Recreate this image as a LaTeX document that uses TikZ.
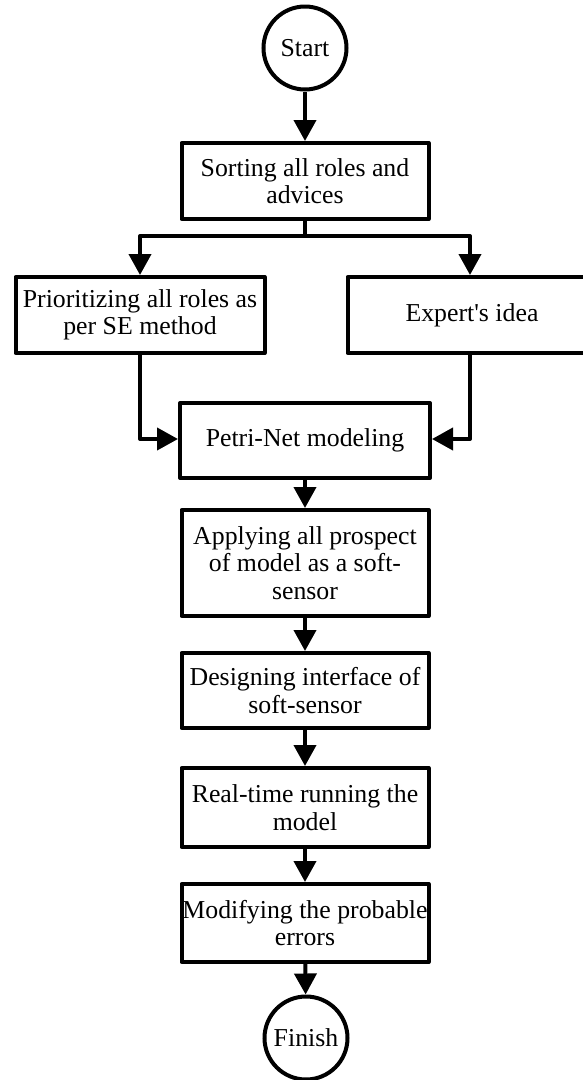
\documentclass[tikz,border=0pt]{standalone}
\usepackage{fontspec}
\setmainfont{Liberation Serif}[Ligatures=TeXOff]
\usetikzlibrary{arrows.meta}
\begin{document}
\begin{tikzpicture}[x=1pt,y=-1pt,
  every node/.style={font=\fontsize{25.8}{27.5}\selectfont, align=center, inner sep=0pt},
  box/.style={draw, line width=4pt, line join=round, rectangle, minimum width=247pt},
  term/.style={draw, line width=4pt, circle, minimum size=83pt},
  conn/.style={line width=4pt, line join=round},
  arr/.style={conn, -{Triangle[length=21pt,width=22pt]}}
]
\useasboundingbox (0,0) rectangle (583,1080);
\clip (0,0) rectangle (583,1080);
\node[term] (start) at (305,48) {Start};
\node[box, minimum height=76pt] (sort) at (305,181) {Sorting all roles and\\advices};
\node[box, minimum width=249pt, minimum height=76pt] (prio) at (140,315) {Prioritizing all roles as\\per SE method};
\node[box, minimum width=249pt, minimum height=76pt] (expert) at (472,315) {Expert's idea};
\node[box, minimum width=250pt, minimum height=75pt] (petri) at (305,440.5) {Petri-Net modeling};
\node[box, minimum height=106pt] (apply) at (305,563) {Applying all prospect\\of model as a soft-\\sensor};
\node[box, minimum height=75pt] (design) at (305,690.5) {Designing interface of\\soft-sensor};
\node[box, minimum height=79pt] (real) at (305,807.5) {Real-time running the\\model};
\node[box, minimum height=78pt] (modify) at (305,923) {Modifying the probable\\errors};
\node[term] (finish) at (306,1038) {Finish};
\coordinate (split) at (305,236);
\draw[arr] (start) -- (sort);
\draw[conn] (sort.south) -- (split);
\draw[arr] (split) -| (prio.north);
\draw[arr] (split) -| ([xshift=-2pt]expert.north);
\draw[arr] (prio.south) |- ([yshift=1.5pt]petri.west);
\draw[arr] ([xshift=-2pt]expert.south) |- ([yshift=1.5pt]petri.east);
\draw[arr] (petri) -- (apply);
\draw[arr] (apply) -- (design);
\draw[arr] (design) -- (real);
\draw[arr] (real) -- (modify);
\draw[arr] (modify) -- (finish);
\end{tikzpicture}
\end{document}
